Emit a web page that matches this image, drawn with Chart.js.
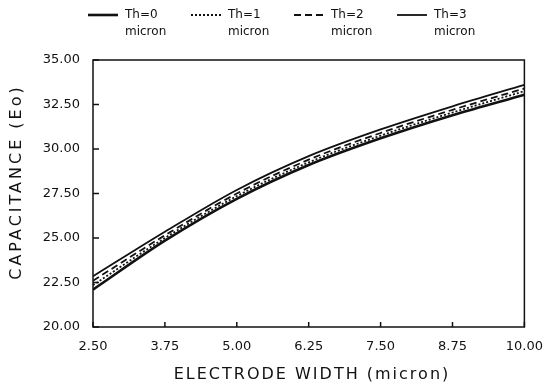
<!DOCTYPE html>
<html>
<head>
<meta charset="utf-8">
<script src="https://cdn.jsdelivr.net/npm/chart.js@4"></script>
<style>
  html, body { margin: 0; padding: 0; background: #fff; }
  #wrap { width: 547px; height: 390px; }
</style>
</head>
<body>
<div id="wrap"><canvas id="capChart" width="547" height="390"></canvas></div>
<script>
// electrode width (micron)
const widths = [2.5, 3.75, 5.0, 6.25, 7.5, 8.75, 10.0];

// capacitance (Eo) per oxide thickness
const th0 = [22.1, 24.85, 27.2, 29.1, 30.6, 31.9, 33.05];
const th1 = [22.35, 25.0, 27.35, 29.25, 30.75, 32.05, 33.25];
const th2 = [22.6, 25.15, 27.5, 29.4, 30.9, 32.2, 33.4];
const th3 = [22.85, 25.35, 27.7, 29.6, 31.1, 32.4, 33.6];

const seriesNames = ['Th=0', 'Th=1', 'Th=2', 'Th=3'];
const xTicks = [2.5, 3.75, 5.0, 6.25, 7.5, 8.75, 10.0];
const yTicks = [20, 22.5, 25, 27.5, 30, 32.5, 35];
const xTitle = 'ELECTRODE WIDTH (micron)';
const yTitle = 'CAPACITANCE (Eo)';

const FONT = '"DejaVu Sans", sans-serif';
const INK = '#111';

const styles = [
  { width: 2.6, dash: [] },
  { width: 1.8, dash: [2, 2] },
  { width: 1.8, dash: [7, 4] },
  { width: 1.8, dash: [] }
];

const toPts = arr => arr.map((y, i) => ({ x: widths[i], y }));

const datasets = [th0, th1, th2, th3].map((d, i) => ({
  label: seriesNames[i],
  data: toPts(d),
  borderColor: INK,
  borderWidth: styles[i].width,
  borderDash: styles[i].dash,
  pointRadius: 0,
  tension: 0.4,
  cubicInterpolationMode: 'monotone',
  fill: false
}));

// frame, inward ticks, spaced axis titles and the two-line legend
const framePlugin = {
  id: 'frame',
  afterDraw(chart) {
    const { ctx, chartArea: a, scales } = chart;
    ctx.save();
    ctx.strokeStyle = INK;
    ctx.lineWidth = 1.5;
    ctx.strokeRect(a.left, a.top, a.right - a.left, a.bottom - a.top);

    ctx.beginPath();
    yTicks.forEach(v => {
      const y = scales.y.getPixelForValue(v);
      ctx.moveTo(a.left, y);
      ctx.lineTo(a.left + 6, y);
    });
    xTicks.forEach(v => {
      const x = scales.x.getPixelForValue(v);
      ctx.moveTo(x, a.bottom);
      ctx.lineTo(x, a.bottom - 5);
    });
    ctx.stroke();

    // axis titles
    ctx.fillStyle = INK;
    ctx.font = '16px ' + FONT;
    ctx.letterSpacing = '2px';
    ctx.textAlign = 'center';
    ctx.textBaseline = 'middle';
    ctx.fillText(xTitle, 312, 375);
    ctx.save();
    ctx.translate(17, 182);
    ctx.rotate(-Math.PI / 2);
    ctx.letterSpacing = '3px';
    ctx.fillText(yTitle, 0, 0);
    ctx.restore();
    ctx.letterSpacing = '0px';

    // legend
    const legX = [88, 191, 294, 397];
    ctx.font = '12px ' + FONT;
    ctx.textAlign = 'left';
    datasets.forEach((ds, i) => {
      const x0 = legX[i];
      ctx.beginPath();
      ctx.lineWidth = styles[i].width;
      ctx.setLineDash(styles[i].dash);
      ctx.moveTo(x0, 15);
      ctx.lineTo(x0 + 30, 15);
      ctx.stroke();
      ctx.setLineDash([]);
      ctx.fillText(ds.label, x0 + 37, 15);
      ctx.fillText('micron', x0 + 37, 32);
    });
    ctx.restore();
  }
};

new Chart(document.getElementById('capChart'), {
  type: 'line',
  data: { datasets },
  options: {
    responsive: false,
    animation: false,
    layout: { padding: { top: 60, right: 21, left: 0, bottom: 0 } },
    plugins: { legend: { display: false }, tooltip: { enabled: false } },
    scales: {
      x: {
        type: 'linear',
        min: 2.5,
        max: 10,
        afterBuildTicks: s => { s.ticks = xTicks.map(v => ({ value: v })); },
        afterFit: s => { s.height = 63; },
        grid: { display: false },
        border: { display: false },
        ticks: {
          padding: 4,
          color: INK,
          font: { family: FONT, size: 13 },
          maxRotation: 0,
          callback: v => v.toFixed(2)
        }
      },
      y: {
        min: 20,
        max: 35,
        afterBuildTicks: s => { s.ticks = yTicks.map(v => ({ value: v })); },
        afterFit: s => { s.width = 93; },
        grid: { display: false },
        border: { display: false },
        ticks: {
          padding: 5,
          color: INK,
          font: { family: FONT, size: 13 },
          callback: v => v.toFixed(2)
        }
      }
    }
  },
  plugins: [framePlugin]
});
</script>
</body>
</html>
